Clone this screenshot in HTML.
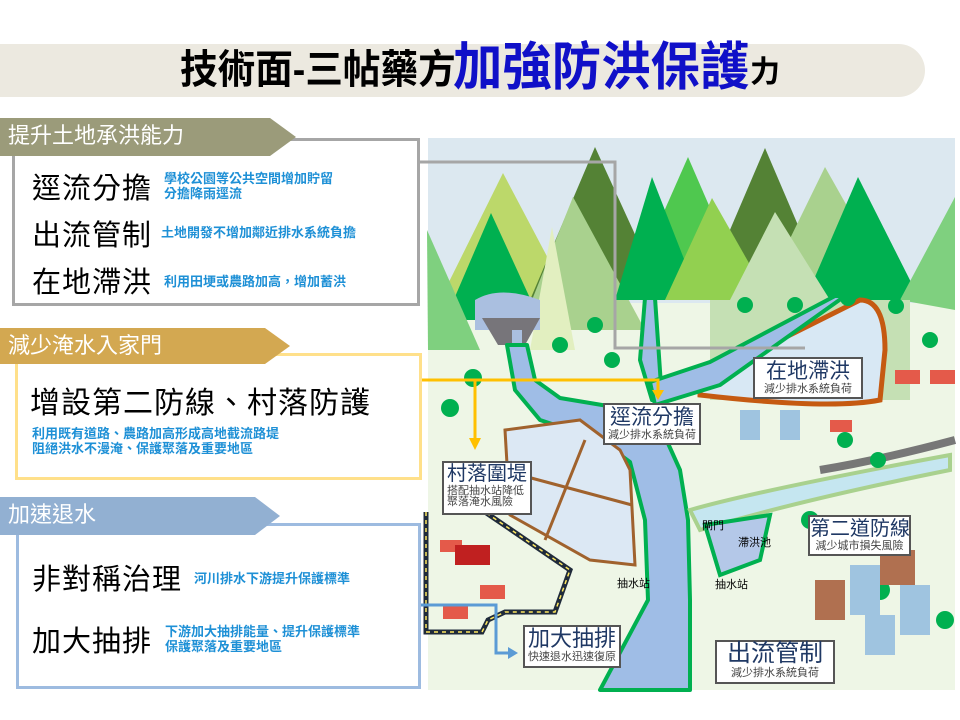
<!DOCTYPE html>
<html><head><meta charset="utf-8"><style>
body{margin:0;width:960px;height:720px;background:#fff;position:relative;overflow:hidden;font-family:"Liberation Sans","Noto Sans CJK TC",sans-serif}
.abs{position:absolute}
.hdr{position:absolute;left:0;color:#fff;font-size:22px;line-height:36px;padding-left:8px;box-sizing:border-box}
.box{position:absolute;border:3px solid;box-sizing:border-box;background:#fff}
.big{position:absolute;font-size:29px;color:#000;white-space:nowrap;letter-spacing:1px}
.sm{position:absolute;font-size:13px;color:#1e90d6;font-weight:bold;line-height:15px;white-space:nowrap}
.tt{position:absolute;font-weight:bold;white-space:nowrap;transform-origin:0 50%;line-height:60px;top:40px}
</style></head><body>
<div class="abs" style="left:0;top:44px;width:925px;height:53px;background:#ece9e0;border-radius:0 27px 27px 0"></div>
<div class="tt" style="left:180px;font-size:40px;transform:scaleX(0.94)">技術面-三帖藥方</div>
<div class="tt" style="left:453px;font-size:52px;color:#1010c8;transform:scaleX(0.95);top:38px">加強防洪保護</div>
<div class="tt" style="left:750px;font-size:30px;top:43px">力</div>

<svg class="abs" style="left:0;top:0" width="960" height="720">
<rect x="428" y="138" width="527" height="552" fill="#eef6e6"/>
<rect x="428" y="138" width="527" height="165" fill="#dce8f0"/>
<polygon points="503,173 440,300 570,300" fill="#bcd86a"/>
<polygon points="595,147 530,300 665,300" fill="#548235"/>
<polygon points="765,148 700,300 830,300" fill="#548235"/>
<polygon points="825,167 760,300 900,300" fill="#a9d18e"/>
<polygon points="688,157 625,300 750,300" fill="#4fc84f"/>
<polygon points="491,213 445,320 540,320" fill="#00b050"/>
<polygon points="573,197 520,330 645,330" fill="#a9d18e"/>
<polygon points="652,177 615,300 700,300" fill="#00b050"/>
<polygon points="858,177 805,300 920,300" fill="#00b050"/>
<polygon points="712,198 665,300 770,300" fill="#92d050"/>
<polygon points="775,212 730,300 830,300" fill="#c5e0b4"/>
<polygon points="427,230 428,350 480,350" fill="#7fd07f"/>
<polygon points="955,197 900,300 955,310" fill="#7fd07f"/>
<polygon points="552,227 530,350 575,350" fill="#e2efc0"/>
<path d="M475,300 Q500,285 540,300 L540,330 L475,330Z" fill="#aabfe0"/>
<polygon points="482,318 540,318 525,345 498,345" fill="#77757a"/>
<rect x="512" y="330" width="10" height="20" fill="#aabfe0"/>
<rect x="710" y="300" width="200" height="100" fill="#c5e0b4"/>
<path d="M700,380 L860,300 Q885,300 885,350 L880,400 Q830,410 700,395Z" fill="#d8e8f4" stroke="#c55a11" stroke-width="5"/>
<g fill="#9fbde6" stroke="#00b050" stroke-width="4" stroke-linejoin="round">
<path d="M655,298 L645,298 L640,360 L652,400 L662,400Z"/>
<path d="M845,296 L835,296 L710,362 L650,382 L655,405 L720,385Z"/>
<path d="M507,345 L515,390 L540,420 L600,440 L630,462 L645,520 L648,600 L600,690 L690,690 L690,600 L688,520 L680,470 L662,430 L620,408 L560,398 L535,380 L527,345Z"/>
</g>
<path d="M690,510 Q760,490 950,455 L950,470 Q800,500 700,530Z" fill="#c5e6f0" stroke="#a9d18e" stroke-width="4"/>
<path d="M705,525 L770,515 L760,560 L720,575Z" fill="#b4c8e8" stroke="#00b050" stroke-width="4"/>
<path d="M820,470 Q880,460 955,440" stroke="#777" stroke-width="8" fill="none"/>
<polygon points="505,430 580,420 620,450 630,470 635,565 590,560 510,515" fill="#dce8f4" stroke="#a0622d" stroke-width="3"/>
<line x1="520" y1="475" x2="632" y2="505" stroke="#a0622d" stroke-width="3"/>
<line x1="585" y1="440" x2="545" y2="540" stroke="#a0622d" stroke-width="3"/>
<path d="M426,512 L426,632 L482,632 L488,620 L505,612 L555,612 L570,570 L485,512" fill="none" stroke="#1f2a3a" stroke-width="5"/>
<path d="M426,512 L426,632 L482,632 L488,620 L505,612 L555,612 L570,570 L485,512" fill="none" stroke="#ffe860" stroke-width="1.5" stroke-dasharray="4 4"/>
<g fill="#00b050"><circle cx="450" cy="408" r="9"/><circle cx="473" cy="378" r="9"/><circle cx="612" cy="360" r="8"/><circle cx="745" cy="305" r="8"/><circle cx="795" cy="305" r="8"/><circle cx="848" cy="298" r="8"/><circle cx="896" cy="306" r="8"/><circle cx="930" cy="340" r="8"/><circle cx="878" cy="460" r="8"/><circle cx="845" cy="440" r="8"/><circle cx="810" cy="520" r="9"/><circle cx="880" cy="590" r="10"/><circle cx="945" cy="620" r="9"/><circle cx="595" cy="325" r="8"/><circle cx="560" cy="345" r="8"/></g>
<g fill="#e45a4a"><rect x="895" y="370" width="25" height="14"/><rect x="930" y="370" width="25" height="14"/><rect x="830" y="420" width="22" height="12"/><rect x="440" y="540" width="22" height="12"/><rect x="480" y="585" width="25" height="14"/><rect x="443" y="605" width="25" height="14"/></g>
<g fill="#b07050"><rect x="815" y="580" width="30" height="40"/><rect x="880" y="550" width="35" height="35"/></g>
<g fill="#9fc4e0"><rect x="850" y="565" width="30" height="50"/><rect x="865" y="615" width="30" height="40"/><rect x="900" y="585" width="30" height="50"/><rect x="740" y="410" width="20" height="30"/><rect x="780" y="410" width="20" height="30"/></g>
<rect x="455" y="545" width="35" height="20" fill="#c02020"/>
<polyline points="420,162 615,162 615,348 805,348" fill="none" stroke="#a6a6a6" stroke-width="3"/>
<polyline points="420,380 658,380 658,392" fill="none" stroke="#ffc000" stroke-width="3"/>
<polygon points="652,390 664,390 658,400" fill="#ffc000"/>
<polyline points="475,380 475,440" fill="none" stroke="#ffc000" stroke-width="3"/>
<polygon points="469,438 481,438 475,450" fill="#ffc000"/>
<polyline points="420,605 496,605 496,653 510,653" fill="none" stroke="#5b9bd5" stroke-width="3"/>
<polygon points="508,647 518,653 508,659" fill="#5b9bd5"/>
</svg>

<style>.lb{position:absolute;background:#fff;border:2px solid #555;color:#1f3864;text-align:center;line-height:1;box-sizing:border-box;white-space:nowrap}.lb b{display:block;font-weight:normal}.lb i{display:block;font-style:normal;font-size:11px;color:#444;margin-top:2px}</style>
<div class="lb" style="left:753px;top:357px;width:110px;height:42px"><b style="font-size:21px;margin-top:2px">在地滯洪</b><i>減少排水系統負荷</i></div>
<div class="lb" style="left:603px;top:403px;width:98px;height:42px"><b style="font-size:21px;margin-top:2px">逕流分擔</b><i>減少排水系統負荷</i></div>
<div class="lb" style="left:442px;top:461px;width:90px;height:54px;text-align:left;padding-left:3px"><b style="font-size:20px;margin-top:1px">村落圍堤</b><i>搭配抽水站降低<br>聚落淹水風險</i></div>
<div class="lb" style="left:808px;top:515px;width:103px;height:41px"><b style="font-size:20px;margin-top:2px">第二道防線</b><i>減少城市損失風險</i></div>
<div class="lb" style="left:523px;top:625px;width:98px;height:43px"><b style="font-size:22px;margin-top:1px">加大抽排</b><i>快速退水迅速復原</i></div>
<div class="lb" style="left:715px;top:640px;width:120px;height:44px"><b style="font-size:24px">出流管制</b><i>減少排水系統負荷</i></div>
<div class="abs" style="left:702px;top:517px;font-size:11px">閘門</div>
<div class="abs" style="left:738px;top:534px;font-size:11px">滯洪池</div>
<div class="abs" style="left:617px;top:575px;font-size:11px">抽水站</div>
<div class="abs" style="left:715px;top:576px;font-size:11px">抽水站</div>

<div class="box" style="left:12px;top:138px;width:408px;height:168px;border-color:#a6a6a6"></div>
<div class="hdr" style="top:118px;width:296px;height:38px;background:#9b9b7a;clip-path:polygon(0 0,270px 0,296px 50%,270px 100%,0 100%)">提升土地承洪能力</div>
<div class="big" style="left:32px;top:165px">逕流分擔</div>
<div class="sm" style="left:164px;top:171px">學校公園等公共空間增加貯留<br>分擔降雨逕流</div>
<div class="big" style="left:32px;top:212px">出流管制</div>
<div class="sm" style="left:161px;top:225px">土地開發不增加鄰近排水系統負擔</div>
<div class="big" style="left:32px;top:259px">在地滯洪</div>
<div class="sm" style="left:164px;top:274px">利用田埂或農路加高，增加蓄洪</div>

<div class="box" style="left:15px;top:353px;width:407px;height:127px;border-color:#ffe08a"></div>
<div class="hdr" style="top:328px;width:290px;height:36px;background:#d3a851;clip-path:polygon(0 0,265px 0,290px 50%,265px 100%,0 100%)">減少淹水入家門</div>
<div class="big" style="left:30px;top:378px;font-size:30px">增設第二防線、村落防護</div>
<div class="sm" style="left:32px;top:426px">利用既有道路、農路加高形成高地截流路堤<br>阻絕洪水不漫淹、保護聚落及重要地區</div>

<div class="box" style="left:16px;top:523px;width:405px;height:166px;border-color:#9dbbe0"></div>
<div class="hdr" style="top:497px;width:280px;height:38px;background:#92b0d2;clip-path:polygon(0 0,255px 0,280px 50%,255px 100%,0 100%)">加速退水</div>
<div class="big" style="left:32px;top:556px">非對稱治理</div>
<div class="sm" style="left:194px;top:571px">河川排水下游提升保護標準</div>
<div class="big" style="left:32px;top:618px">加大抽排</div>
<div class="sm" style="left:165px;top:624px">下游加大抽排能量、提升保護標準<br>保護聚落及重要地區</div>
</body></html>
